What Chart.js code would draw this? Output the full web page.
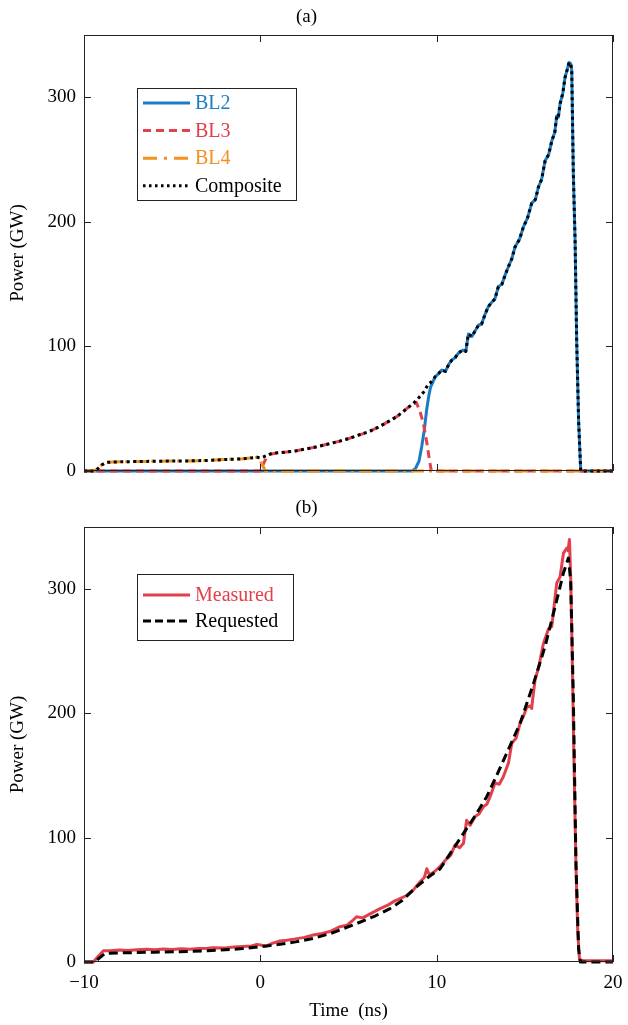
<!DOCTYPE html>
<html>
<head>
<meta charset="utf-8">
<script src="https://cdn.jsdelivr.net/npm/chart.js@4.4.1/dist/chart.umd.min.js"></script>
<style>
  body { margin: 0; background: #fff; }
  canvas { position: absolute; left: 0; }
  #chartA { top: 0; }
  #chartB { top: 495px; }
</style>
</head>
<body>
<canvas id="chartA" width="628" height="495"></canvas>
<canvas id="chartB" width="628" height="530"></canvas>
<script>
// tick labels
const xTicks = [-10, 0, 10, 20];
const yTicks = [0, 100, 200, 300];

// (a) beamlines, time in ns, power in GW
const bl2T = [-10, 8.6, 8.8, 9.0, 9.15, 9.3, 9.43, 9.55, 9.65, 9.8, 9.91, 10.1, 10.29, 10.5, 10.7, 10.86, 11.05, 11.2, 11.33, 11.5, 11.65, 11.8, 12.0, 12.2, 12.37, 12.55, 12.75, 12.93, 13.1, 13.3, 13.5, 13.7, 13.9, 14.07, 14.25, 14.45, 14.7, 14.92, 15.15, 15.39, 15.6, 15.77, 15.95, 16.15, 16.35, 16.53, 16.7, 16.81, 16.9, 17.0, 17.15, 17.28, 17.4, 17.51, 17.6, 17.66, 17.75, 17.85, 17.94, 18.05, 18.17, 20];
const bl2P = [0, 0, 2, 8, 19.5, 33, 49, 60, 67, 72, 75.6, 78, 81, 80, 86, 89, 91, 94, 95.7, 97, 96, 110, 108, 113, 117, 118, 126, 132, 135, 138, 148, 150, 158, 164, 170, 180, 186, 196, 203, 215, 218, 228, 234, 249, 254, 265, 272, 285, 284, 295, 303, 316, 322, 328, 327, 322, 239, 185, 105, 40, 0, 0];

const bl3T = [-10, 0.0, 0.15, 0.35, 0.55, 1.0, 1.5, 2.06, 2.5, 3.0, 3.5, 3.95, 4.5, 5.0, 5.5, 5.84, 6.3, 6.8, 7.3, 7.73, 8.0, 8.3, 8.6, 8.85, 9.05, 9.25, 9.45, 9.6, 9.7, 20];
const bl3P = [0, 0, 5, 11, 13.5, 14.6, 15.3, 16.3, 17.5, 18.8, 20.5, 22, 24, 26, 28.5, 30, 32.5, 36, 40, 43.6, 46.5, 50, 53.5, 55, 48, 38, 22, 8, 0, 0];

const bl4T = [-10, -9.45, -9.2, -9.0, -8.8, -8.62, -8.0, -7.0, -6.0, -5.0, -4.0, -3.0, -2.0, -1.0, -0.2, -0.1, 0.1, 0.3, 20];
const bl4P = [0, 0, 2, 4.8, 6.5, 7, 7.4, 7.6, 7.8, 8.0, 8.1, 8.5, 9.2, 9.8, 11, 10.8, 5, 0, 0];

const compT = [-10, -9.45, -9.2, -9.0, -8.8, -8.62, -8.0, -7.0, -6.0, -5.0, -4.0, -3.0, -2.0, -1.0, -0.2, 0.0, 0.2, 0.45, 0.65, 1.0, 1.5, 2.06, 2.5, 3.0, 3.5, 3.95, 4.5, 5.0, 5.5, 5.84, 6.3, 6.8, 7.3, 7.73, 8.0, 8.3, 8.68, 9.0, 9.3, 9.53, 9.65, 9.8, 9.91, 10.1, 10.29, 10.5, 10.7, 10.86, 11.05, 11.2, 11.33, 11.5, 11.65, 11.8, 12.0, 12.2, 12.37, 12.55, 12.75, 12.93, 13.1, 13.3, 13.5, 13.7, 13.9, 14.07, 14.25, 14.45, 14.7, 14.92, 15.15, 15.39, 15.6, 15.77, 15.95, 16.15, 16.35, 16.53, 16.7, 16.81, 16.9, 17.0, 17.15, 17.28, 17.4, 17.51, 17.6, 17.66, 17.75, 17.85, 17.94, 18.05, 18.17, 20];
const compP = [0, 0, 2, 4.8, 6.5, 7, 7.4, 7.6, 7.8, 8.0, 8.1, 8.5, 9.2, 9.8, 11, 10.6, 11.5, 13, 14.2, 14.6, 15.3, 16.3, 17.5, 18.8, 20.5, 22, 24, 26, 28.5, 30, 32.5, 36, 40, 43.6, 46.5, 50, 54.3, 59, 64, 70, 71, 73, 75.6, 78, 81, 80, 86, 89, 91, 94, 95.7, 97, 96, 110, 108, 113, 117, 118, 126, 132, 135, 138, 148, 150, 158, 164, 170, 180, 186, 196, 203, 215, 218, 228, 234, 249, 254, 265, 272, 285, 284, 295, 303, 316, 322, 328, 327, 322, 239, 185, 105, 40, 0, 0];

// (b) measured vs requested
const measT = [-10, -9.47, -9.2, -8.9, -8.5, -8.0, -7.5, -7.0, -6.44, -6.0, -5.5, -5.0, -4.5, -4.0, -3.5, -3.0, -2.67, -2.0, -1.5, -1.0, -0.5, -0.2, 0.1, 0.36, 0.7, 1.12, 1.5, 2.0, 2.5, 3.0, 3.5, 4.0, 4.52, 4.9, 5.2, 5.46, 5.8, 6.2, 6.79, 7.2, 7.6, 7.92, 8.3, 8.68, 9.06, 9.3, 9.44, 9.6, 9.9, 10.2, 10.57, 10.8, 11.04, 11.3, 11.52, 11.7, 11.9, 12.18, 12.4, 12.65, 12.85, 13.03, 13.31, 13.55, 13.78, 14.07, 14.26, 14.5, 14.73, 14.9, 15.11, 15.3, 15.39, 15.45, 15.58, 15.8, 16.05, 16.34, 16.53, 16.65, 16.81, 17.0, 17.19, 17.38, 17.45, 17.53, 17.6, 17.66, 17.79, 17.9, 18.0, 18.1, 18.3, 20];
const measP = [0, 0, 4.5, 9.1, 9.0, 9.6, 9.3, 9.9, 10.2, 9.8, 10.4, 10.1, 10.6, 10.3, 10.8, 11.0, 11.5, 11.2, 12.0, 12.4, 12.9, 14.2, 13.4, 12.9, 15.2, 16.9, 17.5, 18.6, 19.8, 21.7, 23.0, 24.8, 28.4, 29.5, 33, 36.4, 35.5, 38.5, 43, 45.5, 49, 51, 53.5, 58, 64.6, 68, 75, 70, 73, 77, 83, 86, 94, 92, 95.5, 114, 110, 117, 119, 125, 127, 133, 144, 143, 149, 160, 176, 180, 192, 197, 205, 206, 204, 212, 227, 238, 256, 268, 270, 285, 305, 310, 329, 333, 331, 340, 310, 267, 160, 77, 25, 2, 1, 1];

const reqT = [-10, -9.38, -9.1, -8.8, -8.0, -6.0, -4.55, -3.0, -2.0, -1.0, 0, 1.0, 2.0, 3.0, 4.0, 5.47, 6.5, 7.36, 8.0, 8.87, 9.5, 10.2, 10.8, 11.52, 12.2, 12.84, 13.4, 13.97, 14.73, 15.49, 16.15, 16.72, 17.19, 17.47, 17.6, 17.75, 17.9, 18.05, 18.15, 20];
const reqP = [0, 0, 3.5, 7, 7.3, 7.9, 8.3, 9.0, 9.8, 10.8, 12.3, 14.0, 16.2, 19, 23, 31, 37, 43, 49, 60.6, 68, 75, 88, 103.5, 118, 133, 150, 168, 192, 224, 254, 286, 313, 325, 307, 213, 79, 10, 0, 0];

const serif = "'Liberation Serif', 'DejaVu Serif', serif";
const blue = "#1a7dc4";
const red = "#e2404b";
const orange = "#f3901f";

function pts(t, p) {
  return t.map((v, i) => ({ x: v, y: p[i] }));
}

// box round the plot with inward ticks on all four sides
const frame = {
  id: "frame",
  afterDraw(chart) {
    const { ctx, chartArea: a, scales } = chart;
    const len = 7;
    ctx.save();
    ctx.strokeStyle = "#222";
    ctx.lineWidth = 1;
    ctx.setLineDash([]);
    ctx.strokeRect(a.left + 0.5, a.top + 0.5, a.right - a.left - 1, a.bottom - a.top - 1);
    ctx.beginPath();
    scales.x.ticks.forEach((t) => {
      const px = Math.round(scales.x.getPixelForValue(t.value)) + 0.5;
      ctx.moveTo(px, a.bottom); ctx.lineTo(px, a.bottom - len);
      ctx.moveTo(px, a.top); ctx.lineTo(px, a.top + len);
    });
    scales.y.ticks.forEach((t) => {
      const py = Math.round(scales.y.getPixelForValue(t.value)) + 0.5;
      ctx.moveTo(a.left, py); ctx.lineTo(a.left + len, py);
      ctx.moveTo(a.right, py); ctx.lineTo(a.right - len, py);
    });
    ctx.stroke();
    ctx.restore();
  },
};

// legend drawn inside the plot
const boxLegend = {
  id: "boxLegend",
  afterDraw(chart, args, o) {
    const { ctx } = chart;
    ctx.save();
    ctx.fillStyle = "#fff";
    ctx.fillRect(o.left, o.top, o.width, o.height);
    ctx.strokeStyle = "#222";
    ctx.lineWidth = 1;
    ctx.setLineDash([]);
    ctx.strokeRect(o.left + 0.5, o.top + 0.5, o.width, o.height);
    ctx.font = "20px " + serif;
    ctx.textBaseline = "middle";
    chart.data.datasets.forEach((ds, i) => {
      const yy = o.top + o.first + i * o.rowH;
      ctx.beginPath();
      ctx.setLineDash(ds.legendDash || ds.borderDash || []);
      ctx.strokeStyle = ds.borderColor;
      ctx.lineWidth = ds.borderWidth;
      ctx.moveTo(o.left + 6, yy);
      ctx.lineTo(o.left + 53, yy);
      ctx.stroke();
      ctx.fillStyle = ds.textColor;
      ctx.fillText(ds.label, o.left + 58, yy + 1);
    });
    ctx.restore();
  },
};

function fmt(v) {
  return v < 0 ? "\u2212" + Math.abs(v) : String(v);
}

function makeOptions(titleText, titlePad, showX, xHeight, legendBox) {
  return {
    responsive: false,
    devicePixelRatio: 1,
    animation: false,
    layout: { padding: { left: 0, right: 15, top: 0, bottom: 0 } },
    elements: { point: { radius: 0 }, line: { tension: 0, borderCapStyle: "butt", borderJoinStyle: "round" } },
    datasets: { line: { clip: 6 } },
    plugins: {
      legend: { display: false },
      tooltip: { enabled: false },
      title: { display: true, text: titleText, color: "#000", font: { family: serif, size: 19, weight: "normal" }, padding: titlePad },
      boxLegend: legendBox,
    },
    scales: {
      x: {
        type: "linear", min: -10, max: 20,
        grid: { display: false, drawTicks: false },
        border: { display: false },
        afterBuildTicks: (s) => { s.ticks = xTicks.map((v) => ({ value: v })); },
        afterFit: (s) => { s.height = xHeight; s.paddingLeft = 0; s.paddingRight = 0; },
        ticks: { display: showX, color: "#000", padding: 10, font: { family: serif, size: 19 }, callback: fmt, maxRotation: 0 },
        title: { display: showX, text: "Time  (ns)", color: "#000", font: { family: serif, size: 19 }, padding: { top: 0, bottom: 3 } },
      },
      y: {
        type: "linear", min: 0, max: 350,
        grid: { display: false, drawTicks: false },
        border: { display: false },
        afterBuildTicks: (s) => { s.ticks = yTicks.map((v) => ({ value: v })); },
        afterFit: (s) => { s.width = 84; s.paddingTop = 0; s.paddingBottom = 0; },
        ticks: { color: "#000", padding: 8, font: { family: serif, size: 19 }, callback: fmt },
        title: { display: true, text: "Power (GW)", color: "#000", font: { family: serif, size: 19 }, padding: { top: 6.5, bottom: 0 } },
      },
    },
  };
}

new Chart(document.getElementById("chartA"), {
  type: "line",
  data: {
    datasets: [
      { label: "BL2", data: pts(bl2T, bl2P), borderColor: blue, textColor: blue, borderWidth: 3, order: 4 },
      { label: "BL3", data: pts(bl3T, bl3P), borderColor: red, textColor: red, borderWidth: 3, borderDash: [8, 5], legendDash: [8, 5], order: 3 },
      { label: "BL4", data: pts(bl4T, bl4P), borderColor: orange, textColor: orange, borderWidth: 3, borderDash: [13, 5, 3, 5], legendDash: [14, 7, 3, 7], order: 2 },
      { label: "Composite", data: pts(compT, compP), borderColor: "#000", textColor: "#000", borderWidth: 3, borderDash: [3, 3.5], legendDash: [2.5, 3.5], order: 1 },
    ],
  },
  options: makeOptions("(a)", { top: 6, bottom: 6.2 }, false, 24,
    { left: 137, top: 88, width: 159, height: 112, first: 15, rowH: 27.6 }),
  plugins: [frame, boxLegend],
});

new Chart(document.getElementById("chartB"), {
  type: "line",
  data: {
    datasets: [
      { label: "Measured", data: pts(measT, measP), borderColor: red, textColor: red, borderWidth: 3, order: 2 },
      { label: "Requested", data: pts(reqT, reqP), borderColor: "#000", textColor: "#000", borderWidth: 3, borderDash: [9, 5], legendDash: [8, 4], order: 1 },
    ],
  },
  options: makeOptions("(b)", { top: 2, bottom: 7.2 }, true, 63,
    { left: 137, top: 79, width: 156, height: 66, first: 21, rowH: 26 }),
  plugins: [frame, boxLegend],
});
</script>
</body>
</html>
